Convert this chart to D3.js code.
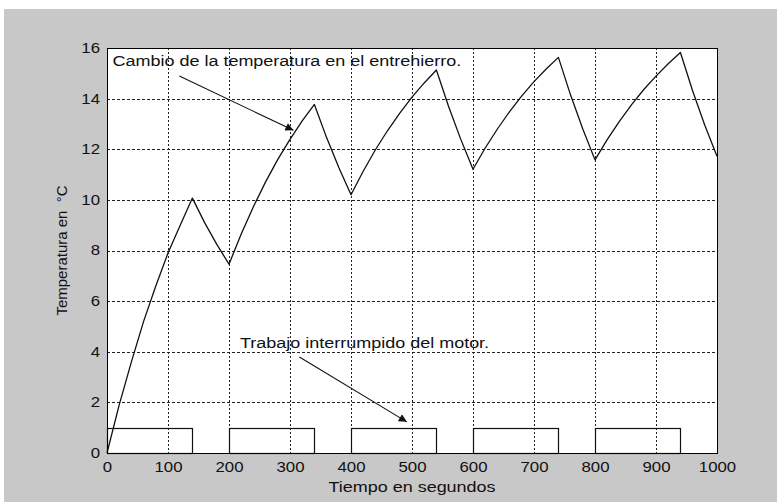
<!DOCTYPE html>
<html>
<head>
<meta charset="utf-8">
<script src="https://cdn.jsdelivr.net/npm/d3@7"></script>
<style>
  html, body { margin: 0; padding: 0; background: #ffffff; }
  svg { display: block; }
  text { font-family: Arial, "Liberation Sans", Helvetica, sans-serif; fill: #111; }
</style>
</head>
<body>
<svg id="chart" width="777" height="502"></svg>
<script>
// Air-gap temperature under intermittent motor duty (time in s, temperature in °C)
const timeSec = [0, 20, 40, 60, 80, 100, 120, 140,
                 160, 180, 200,
                 220, 240, 260, 280, 300, 320, 340,
                 360, 380, 400,
                 420, 440, 460, 480, 500, 520, 540,
                 560, 580, 600,
                 620, 640, 660, 680, 700, 720, 740,
                 760, 780, 800,
                 820, 840, 860, 880, 900, 920, 940,
                 960, 980, 1000];
const temperature = [0, 1.9, 3.6, 5.2, 6.6, 7.9, 9.0, 10.07,
                     9.1, 8.24, 7.46,
                     8.65, 9.73, 10.71, 11.6, 12.39, 13.12, 13.77,
                     12.46, 11.28, 10.2,
                     11.13, 11.98, 12.74, 13.43, 14.06, 14.62, 15.13,
                     13.69, 12.39, 11.21,
                     12.05, 12.8, 13.49, 14.11, 14.67, 15.17, 15.63,
                     14.14, 12.8, 11.58,
                     12.38, 13.1, 13.76, 14.36, 14.89, 15.38, 15.82,
                     14.31, 12.95, 11.72];

// Motor switched on during these intervals (state = 1), off otherwise
const motorOnStart = [0, 200, 400, 600, 800];
const motorOnEnd   = [140, 340, 540, 740, 940];
const motorOnLevel = 1;

const xTicks = [0, 100, 200, 300, 400, 500, 600, 700, 800, 900, 1000];
const yTicks = [0, 2, 4, 6, 8, 10, 12, 14, 16];

const xLabel = "Tiempo en segundos";
const yLabel = "Temperatura en  °C";

// Text notes with arrows, in data units: [time, temperature]
const noteText  = ["Cambio de la temperatura en el entrehierro.", "Trabajo interrumpido del motor."];
const noteAt    = [[9, 15.28], [218, 4.14]];
const arrowFrom = [[118.6, 14.89], [315.4, 3.79]];
const arrowTo   = [[305.6, 12.75], [491.5, 1.23]];

const svg = d3.select("#chart");
const W = 777, H = 502;
const WIDE = 1.2; // horizontal widening of the figure's lettering

const x = d3.scaleLinear().domain([0, 1000]).range([107, 717]);
const y = d3.scaleLinear().domain([0, 16]).range([453, 48]);

// figure background
svg.append("rect").attr("x", 0).attr("y", 0).attr("width", W).attr("height", H).attr("fill", "#ffffff");
svg.append("rect").attr("x", 4).attr("y", 9).attr("width", W - 4).attr("height", H - 9).attr("fill", "#c8c8c8");

// axes area
svg.append("rect")
  .attr("x", x(0)).attr("y", y(16))
  .attr("width", x(1000) - x(0)).attr("height", y(0) - y(16))
  .attr("fill", "#ffffff");

// dotted grid
const grid = svg.append("g").attr("shape-rendering", "crispEdges");
grid.selectAll("line.gx").data(xTicks.filter(d => d > 0 && d < 1000)).join("line")
  .attr("class", "gx")
  .attr("x1", d => Math.round(x(d)) + 0.5).attr("x2", d => Math.round(x(d)) + 0.5)
  .attr("y1", y(16)).attr("y2", y(0))
  .attr("stroke", "#222").attr("stroke-width", 1).attr("stroke-dasharray", "2,2");
grid.selectAll("line.gy").data(yTicks.filter(d => d > 0 && d < 16)).join("line")
  .attr("class", "gy")
  .attr("y1", d => Math.round(y(d)) + 0.5).attr("y2", d => Math.round(y(d)) + 0.5)
  .attr("x1", x(0)).attr("x2", x(1000))
  .attr("stroke", "#222").attr("stroke-width", 1).attr("stroke-dasharray", "3,2");

// motor duty rectangles
svg.append("g").selectAll("rect").data(motorOnStart).join("rect")
  .attr("x", d => Math.round(x(d)) + 0.5)
  .attr("y", Math.round(y(motorOnLevel)) + 0.5)
  .attr("width", (d, i) => Math.round(x(motorOnEnd[i])) - Math.round(x(d)))
  .attr("height", Math.round(y(0)) - Math.round(y(motorOnLevel)))
  .attr("fill", "none").attr("stroke", "#111").attr("stroke-width", 1.2);

// temperature curve
const line = d3.line().x(d => x(d[0])).y(d => y(d[1]));
svg.append("path")
  .datum(timeSec.map((t, i) => [t, temperature[i]]))
  .attr("d", line)
  .attr("fill", "none").attr("stroke", "#111").attr("stroke-width", 1.3)
  .attr("stroke-linejoin", "round");

// box
svg.append("rect")
  .attr("x", x(0) + 0.5).attr("y", y(16) + 0.5)
  .attr("width", x(1000) - x(0)).attr("height", y(0) - y(16))
  .attr("fill", "none").attr("stroke", "#000").attr("stroke-width", 1.2)
  .attr("shape-rendering", "crispEdges");

// axes tick labels
const xAxis = svg.append("g").attr("transform", `translate(0,${y(0)})`)
  .call(d3.axisBottom(x).tickValues(xTicks).tickSize(0).tickPadding(9).tickFormat(d3.format("d")));
const yAxis = svg.append("g").attr("transform", `translate(${x(0)},0)`)
  .call(d3.axisLeft(y).tickValues(yTicks).tickSize(0).tickPadding(0).tickFormat(d3.format("d")));
[xAxis, yAxis].forEach(a => {
  a.select(".domain").remove();
  a.selectAll("text").attr("font-size", 14).attr("fill", "#111")
    .attr("font-family", "Arial, 'Liberation Sans', sans-serif");
});
xAxis.selectAll("text").attr("transform", `scale(${WIDE},1)`);
yAxis.selectAll("text").attr("x", 0).attr("transform", `translate(-7,0) scale(${WIDE},1)`);

// axis titles
svg.append("text")
  .attr("transform", `translate(${(x(0) + x(1000)) / 2},492) scale(${WIDE},1)`)
  .attr("text-anchor", "middle").attr("font-size", 15)
  .text(xLabel);
svg.append("text")
  .attr("transform", `translate(67,${(y(0) + y(16)) / 2}) rotate(-90)`)
  .attr("text-anchor", "middle").attr("font-size", 15)
  .attr("xml:space", "preserve")
  .style("white-space", "pre")
  .text(yLabel);

// notes and arrows
const defs = svg.append("defs");
defs.append("marker")
  .attr("id", "head").attr("viewBox", "0 0 10 10")
  .attr("refX", 10).attr("refY", 5)
  .attr("markerWidth", 11).attr("markerHeight", 8)
  .attr("markerUnits", "userSpaceOnUse")
  .attr("orient", "auto")
  .append("path").attr("d", "M0,0 L10,5 L0,10 Z").attr("fill", "#111");

const notes = svg.append("g");
noteText.forEach((t, i) => {
  notes.append("text")
    .attr("transform", `translate(${x(noteAt[i][0])},${y(noteAt[i][1])}) scale(${WIDE},1)`)
    .attr("font-size", 15)
    .text(t);
  notes.append("line")
    .attr("x1", x(arrowFrom[i][0])).attr("y1", y(arrowFrom[i][1]))
    .attr("x2", x(arrowTo[i][0])).attr("y2", y(arrowTo[i][1]))
    .attr("stroke", "#111").attr("stroke-width", 1.1)
    .attr("marker-end", "url(#head)");
});
</script>
</body>
</html>
